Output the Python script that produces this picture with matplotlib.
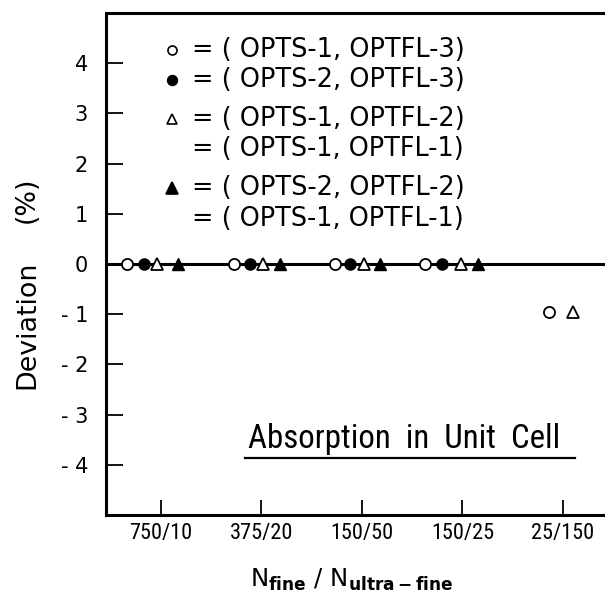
import matplotlib
matplotlib.use("Agg")
import matplotlib.pyplot as plt
from matplotlib import font_manager

# ---- data ----
xtick_labels = ["750/10", "375/20", "150/50", "150/25", "25/150"]
ytick_vals = [-4, -3, -2, -1, 0, 1, 2, 3, 4]
ytick_labels = ["- 4", "- 3", "- 2", "- 1", "0", "1", "2", "3", "4"]

# x positions (category units incl. in-group offsets as read) and deviations (%)
open_circle_x = [0.66, 1.73, 2.73, 3.63, 4.86]
open_circle_y = [0.0, 0.0, 0.0, 0.0, -0.95]
filled_circle_x = [0.83, 1.89, 2.88, 3.80]
filled_circle_y = [0.0, 0.0, 0.0, 0.0]
open_tri_x = [0.96, 2.02, 3.02, 3.99, 5.10]
open_tri_y = [0.0, 0.0, 0.0, 0.0, -0.95]
filled_tri_x = [1.17, 2.18, 3.18, 4.15]
filled_tri_y = [0.0, 0.0, 0.0, 0.0]

legend_lines = ["= ( OPTS-1, OPTFL-3)", "= ( OPTS-2, OPTFL-3)", "= ( OPTS-1, OPTFL-2)",
                "= ( OPTS-1, OPTFL-1)", "= ( OPTS-2, OPTFL-2)", "= ( OPTS-1, OPTFL-1)"]
annotation = "Absorption  in  Unit  Cell"

# ---- fonts ----
names = {f.name for f in font_manager.fontManager.ttflist}
NARROW = 'DejaVu Sans'
for cand in ['Liberation Sans Narrow', 'DejaVu Sans Condensed', 'Roboto Condensed',
             'Open Sans Condensed', 'Noto Sans Condensed']:
    if cand in names:
        NARROW = cand
        break
plt.rcParams['font.family'] = ['DejaVu Sans']

W, H = 605.0, 614.0
fig = plt.figure(figsize=(W / 100, H / 100), dpi=100)
AX_L, AX_R, AX_T, AX_B = 106.0, 605.0, 13.0, 515.0
ax = fig.add_axes([AX_L / W, 1 - AX_B / H, (AX_R - AX_L) / W, (AX_B - AX_T) / H])
ax.set_xlim(0.453, 5.418)
ax.set_ylim(-5, 5)
renderer = fig.canvas.get_renderer()


def axf(px, py):
    return (px - AX_L) / (AX_R - AX_L), (AX_B - py) / (AX_B - AX_T)


def fit(t, width_px, rotation=0):
    t.set_rotation(0)
    t.set_fontsize(10)
    w = t.get_window_extent(renderer).width
    t.set_fontsize(10 * width_px / w)
    t.set_rotation(rotation)
    return t


ax.axhline(0, color='black', lw=2.2, zorder=1)

ms = 8
ax.plot(open_circle_x, open_circle_y, 'o', mfc='white', mec='black', mew=1.3, ms=ms, ls='none', zorder=3)
ax.plot(filled_circle_x, filled_circle_y, 'o', mfc='black', mec='black', ms=ms, ls='none', zorder=3)
ax.plot(open_tri_x, open_tri_y, '^', mfc='white', mec='black', mew=1.3, ms=ms + 1, ls='none', zorder=3)
ax.plot(filled_tri_x, filled_tri_y, '^', mfc='black', mec='black', ms=ms + 1, ls='none', zorder=3)

for s in ['left', 'bottom', 'top']:
    ax.spines[s].set_linewidth(2.2)
ax.spines['right'].set_visible(False)

ax.set_xticks([1, 2, 3, 4, 5])
ax.set_xticklabels(xtick_labels, family=NARROW)
ax.set_yticks(ytick_vals)
ax.set_yticklabels(ytick_labels)
ax.tick_params(axis='x', direction='in', length=11, width=1.3, pad=6, labelsize=16)
ax.tick_params(axis='y', direction='in', length=12, width=1.3, pad=13, labelsize=15)

# manual legend
leg_y_px = [50, 80, 119, 149, 188, 219]
markers = [('o', 'white', 6.5), ('o', 'black', 7), ('^', 'white', 7.5), None, ('^', 'black', 8), None]
for text, ypx, mk in zip(legend_lines, leg_y_px, markers):
    x0, y0 = axf(192, ypx)
    t = ax.text(x0, y0, text, transform=ax.transAxes, va='center', ha='left')
    fit(t, 271)
    if mk is not None:
        mx, my = axf(172, ypx)
        ax.plot([mx], [my], mk[0], mfc=mk[1], mec='black', ms=mk[2], mew=1.2,
                transform=ax.transAxes, clip_on=False)

# annotation with underline
x0, y0 = axf(248, 448)
t = ax.text(x0, y0, annotation, transform=ax.transAxes, va='baseline', ha='left', family=NARROW)
fit(t, 310)
ux0, uy = axf(245, 458)
ux1, _ = axf(575, 458)
ax.plot([ux0, ux1], [uy, uy], color='black', lw=1.6, transform=ax.transAxes)

# y label (two parts, same size)
t1 = fig.text(27 / W, 1 - 325 / H, "Deviation", ha='center', va='center')
fit(t1, 129, rotation=90)
t2 = fig.text(27 / W, 1 - 200 / H, "(%)", ha='center', va='center', rotation=90,
              fontsize=t1.get_fontsize())

# x label
t3 = fig.text(352 / W, 1 - 580 / H, r"N$_{\mathbf{fine}}$ / N$_{\mathbf{ultra-fine}}$",
              ha='center', va='center')
fit(t3, 205)

fig.savefig("out.png", dpi=100)
